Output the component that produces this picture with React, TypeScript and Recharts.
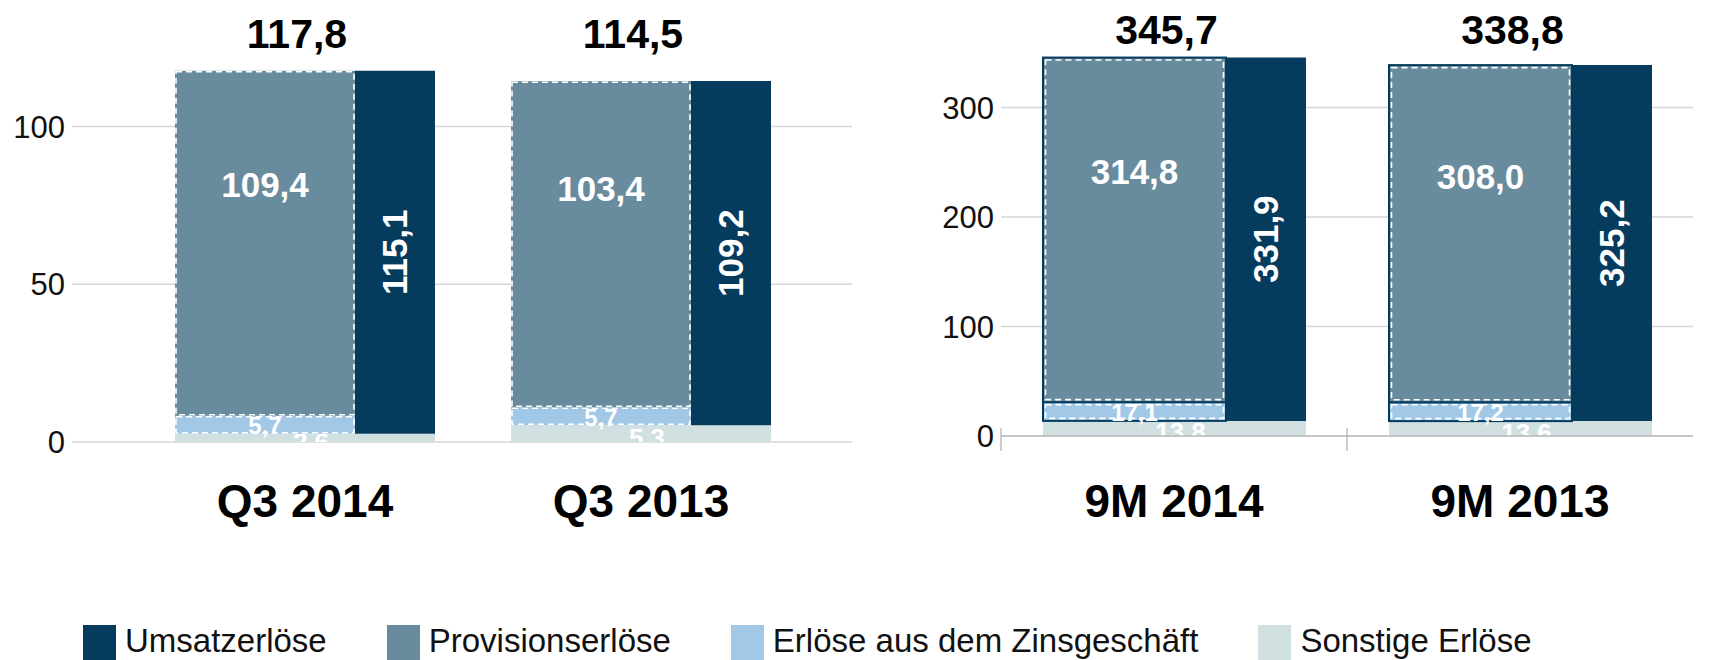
import React from 'react';
import { BarChart, Bar, XAxis, YAxis, CartesianGrid, LabelList } from 'recharts';

const FONT = '"Liberation Sans", Arial, Helvetica, sans-serif';

// Q3 panel
const quarterCategories = ['Q3 2014', 'Q3 2013'];
const quarterUmsatz = [115.1, 109.2];
const quarterProvision = [109.4, 103.4];
const quarterZins = [5.7, 5.7];
const quarterSonstige = [2.6, 5.3];
const quarterTotal = [117.8, 114.5];
const quarterTicks = [0, 50, 100];

// 9M panel
const nineMonthCategories = ['9M 2014', '9M 2013'];
const nineMonthUmsatz = [331.9, 325.2];
const nineMonthProvision = [314.8, 308.0];
const nineMonthZins = [17.1, 17.2];
const nineMonthSonstige = [13.8, 13.6];
const nineMonthTotal = [345.7, 338.8];
const nineMonthTicks = [0, 100, 200, 300];

const legendNames = ['Umsatzerlöse', 'Provisionserlöse', 'Erlöse aus dem Zinsgeschäft', 'Sonstige Erlöse'];
const seriesColors = ['#053b5d', '#688b9d', '#a1c9e7', '#d0dfdf'];

const fmt = (v: number) => v.toFixed(1).replace('.', ',');

function buildRows(cats: string[], umsatz: number[], prov: number[], zins: number[], sonst: number[], total: number[]) {
  return cats.map((cat, i) => ({
    cat,
    umsatz: umsatz[i],
    provision: prov[i],
    zins: zins[i],
    sonstige: sonst[i],
    total: total[i],
  }));
}

const quarterRows = buildRows(quarterCategories, quarterUmsatz, quarterProvision, quarterZins, quarterSonstige, quarterTotal);
const nineMonthRows = buildRows(nineMonthCategories, nineMonthUmsatz, nineMonthProvision, nineMonthZins, nineMonthSonstige, nineMonthTotal);

function DashedRect(props: any) {
  const { x, y, width, height, fill, outline } = props;
  if (!height || height <= 0) return null;
  const inset = outline ? 2.5 : 1;
  return (
    <g>
      <rect x={x} y={y} width={width} height={height} fill={fill}
        stroke={outline ? seriesColors[0] : 'none'} strokeWidth={outline ? 2 : 0} />
      <rect x={x + inset} y={y + inset} width={width - inset * 2} height={height - inset * 2}
        fill="none" stroke="#ffffff" strokeWidth={1.6} strokeDasharray="6 4" />
    </g>
  );
}

interface PanelProps {
  id: string;
  data: any[];
  left: number;
  width: number;
  height: number;
  margin: { top: number; right: number; bottom: number; left: number };
  yDomain: [number, number];
  yTicks: number[];
  yAxisWidth: number;
  xAxisHeight: number;
  xPadding: { left: number; right: number };
  stackSize: number;
  umsatzSize: number;
  outline: boolean;
  showAxisLine: boolean;
  bandWidth: number;
  totalsY: number;
}

function Panel(p: PanelProps) {
  const groupW = p.stackSize + p.umsatzSize;

  const SonstigeStrip = (props: any) => {
    const { x, y, width, height, index, payload } = props;
    if (!height || height <= 0) return null;
    const w = width + p.umsatzSize;
    const clipId = `clip-${p.id}-${index}`;
    return (
      <g>
        <defs>
          <clipPath id={clipId}>
            <rect x={x} y={y} width={w} height={height} />
          </clipPath>
        </defs>
        <rect x={x} y={y} width={w} height={height} fill={seriesColors[3]} />
        <text x={x + w / 2 + 6} y={y + height / 2 + 4} fill="#ffffff" fontSize={26} fontWeight="bold"
          textAnchor="middle" dominantBaseline="central" fontFamily={FONT} clipPath={`url(#${clipId})`}>
          {fmt(payload.sonstige)}
        </text>
      </g>
    );
  };

  const centerLabel = (props: any) => {
    const { x, y, width, height, value } = props;
    return (
      <text x={x + width / 2} y={y + height / 2 + 1} fill="#ffffff" fontSize={24} fontWeight="bold"
        textAnchor="middle" dominantBaseline="central" fontFamily={FONT}>
        {fmt(value)}
      </text>
    );
  };

  const provisionLabel = (props: any) => {
    const { x, y, width, height, value } = props;
    return (
      <text x={x + width / 2} y={y + height * 0.33} fill="#ffffff" fontSize={35} fontWeight="bold"
        textAnchor="middle" dominantBaseline="central" fontFamily={FONT}>
        {fmt(value)}
      </text>
    );
  };

  const totalLabel = (props: any) => {
    const { x, value } = props;
    return (
      <text x={x + groupW / 2 - 8} y={p.totalsY} fill="#000000" fontSize={41} fontWeight="bold"
        textAnchor="middle" dominantBaseline="central" fontFamily={FONT}>
        {fmt(value)}
      </text>
    );
  };

  const umsatzLabel = (props: any) => {
    const { x, y, width, height, value } = props;
    const cx = x + width / 2;
    const cy = y + height / 2;
    return (
      <text x={cx} y={cy} fill="#ffffff" fontSize={35} fontWeight="bold" textAnchor="middle"
        dominantBaseline="central" fontFamily={FONT} transform={`rotate(-90 ${cx} ${cy})`}>
        {fmt(value)}
      </text>
    );
  };

  const CategoryTick = (props: any) => {
    const { x, y, payload } = props;
    return (
      <g>
        {p.showAxisLine && (
          <line x1={x - p.bandWidth / 2} x2={x - p.bandWidth / 2} y1={y - 8} y2={y + 15} stroke="#bdbdbd" strokeWidth={1.5} />
        )}
        <text x={x} y={501} fill="#000000" fontSize={46} fontWeight="bold" textAnchor="middle"
          dominantBaseline="central" fontFamily={FONT}>
          {payload.value}
        </text>
      </g>
    );
  };

  return (
    <div style={{ position: 'absolute', left: p.left, top: 0 }}>
      <BarChart width={p.width} height={p.height} data={p.data} margin={p.margin} barGap={0} barCategoryGap={0}>
        <CartesianGrid vertical={false} stroke="#d6d6d6" strokeWidth={1.5} syncWithTicks />
        <XAxis dataKey="cat" height={p.xAxisHeight} padding={p.xPadding} tickSize={0} tickMargin={0}
          axisLine={p.showAxisLine ? { stroke: '#bdbdbd', strokeWidth: 1.5 } : false} tickLine={false}
          tick={<CategoryTick />} interval={0} />
        <YAxis type="number" domain={p.yDomain} ticks={p.yTicks} width={p.yAxisWidth} axisLine={false}
          tickLine={false} tickSize={0} tickMargin={7} interval={0}
          tick={{ fill: '#111111', fontSize: 31, fontFamily: FONT }} />
        <Bar dataKey="sonstige" stackId="a" barSize={p.stackSize} fill={seriesColors[3]}
          shape={<SonstigeStrip />} isAnimationActive={false} />
        <Bar dataKey="zins" stackId="a" barSize={p.stackSize} fill={seriesColors[2]}
          shape={<DashedRect outline={p.outline} />} isAnimationActive={false}>
          <LabelList dataKey="zins" content={centerLabel} />
        </Bar>
        <Bar dataKey="provision" stackId="a" barSize={p.stackSize} fill={seriesColors[1]}
          shape={<DashedRect outline={p.outline} />} isAnimationActive={false}>
          <LabelList dataKey="provision" content={provisionLabel} />
          <LabelList dataKey="total" content={totalLabel} />
        </Bar>
        <Bar dataKey="sonstige" stackId="b" barSize={p.umsatzSize} fill="transparent"
          isAnimationActive={false} />
        <Bar dataKey="umsatz" stackId="b" barSize={p.umsatzSize} fill={seriesColors[0]} isAnimationActive={false}>
          <LabelList dataKey="umsatz" content={umsatzLabel} />
        </Bar>
      </BarChart>
    </div>
  );
}

function Legend() {
  return (
    <div style={{ position: 'absolute', left: 83, top: 625, display: 'flex', gap: 60, fontFamily: FONT }}>
      {legendNames.map((name, i) => (
        <div key={name} style={{ display: 'flex', alignItems: 'flex-start' }}>
          <div style={{ width: 33, height: 35, background: seriesColors[i] }} />
          <div style={{ marginLeft: 9, fontSize: 33, lineHeight: '32px', color: '#111111', whiteSpace: 'nowrap' }}>
            {name}
          </div>
        </div>
      ))}
    </div>
  );
}

export default function App() {
  return (
    <div style={{ position: 'absolute', left: 0, top: 0, width: 1726, height: 660, overflow: 'hidden', background: '#ffffff', fontFamily: FONT }}>
      <Panel
        id="q3"
        data={quarterRows}
        left={0}
        width={870}
        height={540}
        margin={{ top: 32, right: 18, bottom: 0, left: 0 }}
        yDomain={[0, 130]}
        yTicks={quarterTicks}
        yAxisWidth={72}
        xAxisHeight={98}
        xPadding={{ left: 65, right: 43 }}
        stackSize={180}
        umsatzSize={80}
        outline={false}
        showAxisLine={false}
        bandWidth={336}
        totalsY={34}
      />
      <Panel
        id="m9"
        data={nineMonthRows}
        left={870}
        width={856}
        height={540}
        margin={{ top: 20, right: 33, bottom: 0, left: 0 }}
        yDomain={[0, 380]}
        yTicks={nineMonthTicks}
        yAxisWidth={131}
        xAxisHeight={104}
        xPadding={{ left: 0, right: 0 }}
        stackSize={183}
        umsatzSize={80}
        outline={true}
        showAxisLine={true}
        bandWidth={346}
        totalsY={30}
      />
      <Legend />
    </div>
  );
}
